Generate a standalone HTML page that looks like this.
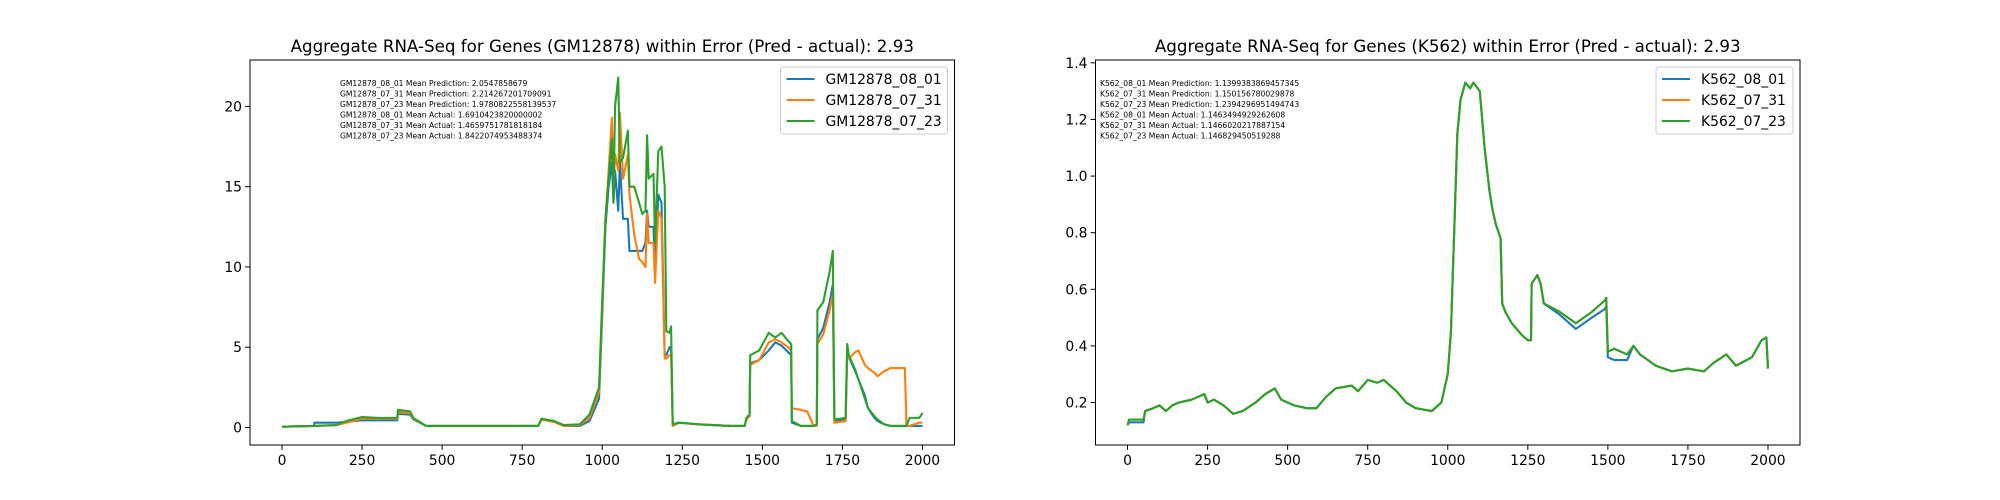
<!DOCTYPE html>
<html><head><meta charset="utf-8"><style>
html,body{margin:0;padding:0;background:#fff;}
svg{display:block;font-family:"DejaVu Sans","Liberation Sans",sans-serif;}
</style></head><body>
<svg id="fig" width="2000" height="500" viewBox="0 0 2000 500"></svg>
<script>
// ---- GM12878 data ----
const gmX = [0,100,101,170,200,250,300,360,362,400,410,450,800,810,850,880,930,960,990,1000,1010,1020,1030,1035,1040,1050,1055,1065,1080,1085,1100,1115,1125,1135,1140,1145,1160,1165,1175,1185,1195,1200,1210,1215,1220,1240,1300,1400,1445,1450,1460,1462,1490,1520,1540,1560,1580,1590,1592,1620,1640,1660,1670,1672,1690,1710,1720,1725,1760,1765,1770,1790,1800,1820,1830,1850,1860,1880,1900,1945,1950,1960,1990,2000];
const gmBlue = [0.05,0.1,0.3,0.3,0.35,0.45,0.45,0.45,0.85,0.8,0.5,0.1,0.1,0.5,0.35,0.1,0.1,0.4,1.8,7,12.5,15,16.5,14,16,13.5,16.5,13,13,11,11,11,11,11.5,13.5,12.5,12.5,9.5,14.5,14,4.5,4.5,5,5,0.2,0.3,0.2,0.1,0.1,0.5,0.7,4,4.2,4.8,5.3,5.1,4.7,4.5,0.3,0.1,0.1,0.1,0.2,5.5,6.2,7.8,8.9,0.4,0.5,5,4.4,3.5,3,2,1.2,0.6,0.4,0.2,0.1,0.1,0.1,0.1,0.1,0.1];
const gmOrange = [0.05,0.1,0.1,0.15,0.3,0.55,0.55,0.55,0.95,0.9,0.55,0.1,0.1,0.5,0.35,0.1,0.15,0.6,2.2,7.5,13,16,19.3,15,17,16,19.6,15.5,17,14.5,12,10.5,10.3,10,13.3,11.5,11.5,9,13.5,13,4.3,4.3,4.5,4.5,0.1,0.3,0.2,0.1,0.1,0.5,0.7,3.9,4.2,5.3,5.5,5.3,5,4.8,1.2,1.1,1,0.1,0.1,5.2,5.8,7.3,8.3,0.3,0.4,4.5,4.3,4.7,4.8,3.9,3.7,3.4,3.2,3.5,3.7,3.7,0.1,0.1,0.3,0.3];
const gmGreen = [0.05,0.1,0.1,0.15,0.4,0.65,0.6,0.6,1.1,1.0,0.6,0.1,0.1,0.55,0.4,0.15,0.2,0.8,2.5,8,13,15.5,18,14,20,21.8,16.5,16.8,18.5,15,15,14,13.3,13.5,18.2,15.5,15.8,11.5,17.2,17.5,15,6,5.9,6.3,0.2,0.3,0.2,0.1,0.1,0.6,0.8,4.5,4.8,5.9,5.6,5.9,5.4,5.2,0.4,0.1,0.1,0.1,0.2,7.3,7.8,9.7,11,0.5,0.6,5.2,4.5,3.6,3,1.8,1.2,0.7,0.5,0.2,0.1,0.1,0.1,0.6,0.6,0.9];
const gmYTicks = [0,5,10,15,20];
const xTicks = [0,250,500,750,1000,1250,1500,1750,2000];
const gmNames = ["GM12878_08_01","GM12878_07_31","GM12878_07_23"];
const gmNotes = ["GM12878_08_01 Mean Prediction: 2.0547858679","GM12878_07_31 Mean Prediction: 2.214267201709091","GM12878_07_23 Mean Prediction: 1.9780822558139537","GM12878_08_01 Mean Actual: 1.6910423820000002","GM12878_07_31 Mean Actual: 1.4659751781818184","GM12878_07_23 Mean Actual: 1.8422074953488374"];
// ---- K562 data ----
const kX = [0,5,50,55,80,100,120,140,160,200,240,250,270,300,330,360,400,430,460,480,520,560,590,620,650,700,720,750,780,800,840,870,900,950,980,1000,1010,1020,1030,1040,1055,1070,1080,1100,1115,1130,1140,1150,1165,1170,1180,1200,1230,1250,1260,1262,1280,1290,1300,1350,1400,1450,1490,1495,1500,1520,1560,1580,1600,1650,1700,1750,1800,1830,1870,1900,1950,1980,1995,2000];
const kGreen = [0.12,0.14,0.14,0.17,0.18,0.19,0.17,0.19,0.2,0.21,0.23,0.2,0.21,0.19,0.16,0.17,0.2,0.23,0.25,0.21,0.19,0.18,0.18,0.22,0.25,0.26,0.24,0.28,0.27,0.28,0.24,0.2,0.18,0.17,0.2,0.3,0.45,0.8,1.15,1.27,1.33,1.31,1.33,1.3,1.1,0.95,0.88,0.83,0.78,0.55,0.52,0.48,0.44,0.42,0.42,0.62,0.65,0.62,0.55,0.52,0.48,0.52,0.56,0.57,0.38,0.39,0.37,0.40,0.37,0.33,0.31,0.32,0.31,0.34,0.37,0.33,0.36,0.42,0.43,0.32];
const kOrange = kGreen.slice();
const kBlue = [0.12,0.13,0.13,0.17,0.18,0.19,0.17,0.19,0.2,0.21,0.23,0.2,0.21,0.19,0.16,0.17,0.2,0.23,0.25,0.21,0.19,0.18,0.18,0.22,0.25,0.26,0.24,0.28,0.27,0.28,0.24,0.2,0.18,0.17,0.2,0.3,0.45,0.8,1.15,1.27,1.33,1.31,1.33,1.3,1.1,0.95,0.88,0.83,0.78,0.55,0.52,0.48,0.44,0.42,0.42,0.62,0.65,0.62,0.55,0.51,0.46,0.5,0.53,0.54,0.36,0.35,0.35,0.40,0.37,0.33,0.31,0.32,0.31,0.34,0.37,0.33,0.36,0.42,0.43,0.32];
const kYTicks = [0.2,0.4,0.6,0.8,1.0,1.2,1.4];
const kNames = ["K562_08_01","K562_07_31","K562_07_23"];
const kNotes = ["K562_08_01 Mean Prediction: 1.1399383869457345","K562_07_31 Mean Prediction: 1.150156780029878","K562_07_23 Mean Prediction: 1.2394296951494743","K562_08_01 Mean Actual: 1.1463494929262608","K562_07_31 Mean Actual: 1.1466020217887154","K562_07_23 Mean Actual: 1.146829450519288"];

const colors = ["#1f77b4","#ff7f0e","#2ca02c"];
const NS = "http://www.w3.org/2000/svg";
const svg = document.getElementById('fig');
function mk(tag, attrs, parent){ const e=document.createElementNS(NS,tag); for(const k in attrs) e.setAttribute(k,attrs[k]); (parent||svg).appendChild(e); return e; }

function drawPanel(cfg){
  const L=cfg.left, R=cfg.left+704.5, T=60, B=445;
  const xs = v => L + (v - (-100)) / 2200 * (R-L);
  const ys = v => B - (v - cfg.ymin) / (cfg.ymax - cfg.ymin) * (B-T);
  const g = mk('g',{});
  
  
  const title = mk('text',{x:(L+R)/2,y:52,'text-anchor':'middle','font-size':'16.7'},g);
  title.textContent = cfg.title;
  
  
  // lines
  cfg.series.forEach((ys_,i)=>{
    const d = cfg.x.map((xv,j)=>(j?'L':'M')+xs(xv).toFixed(2)+','+ys(ys_[j]).toFixed(2)).join(' ');
    const p = mk('path',{d:d,fill:'none',stroke:colors[i],'stroke-width':'2.1','stroke-linejoin':'round'},g);
    
    
  });
  // frame
  const fr = mk('rect',{x:L,y:T,width:R-L,height:B-T,fill:'none',stroke:'#000','stroke-width':'1'},g);
  
  
  xTicks.forEach(t=>{
    const x=xs(t);
    mk('line',{x1:x,x2:x,y1:B,y2:B+4.9,stroke:'#000','stroke-width':'1'},g);
    const tx=mk('text',{x:x,y:B+20,'text-anchor':'middle','font-size':'13.9'},g);
    tx.textContent=t;
    
    
  });
  cfg.yticks.forEach(t=>{
    const y=ys(t);
    mk('line',{x1:L-4.9,x2:L,y1:y,y2:y,stroke:'#000','stroke-width':'1'},g);
    const tx=mk('text',{x:L-8,y:y+5,'text-anchor':'end','font-size':'13.9'},g);
    tx.textContent=cfg.fmt(t);
    
    
  });
  // annotations
  cfg.notes.forEach((s,i)=>{
    const tx=mk('text',{x:cfg.noteX,y:86+i*10.5,'font-size':'7.6'},g);
    tx.textContent=s;
    
    
  });
  // legend
  const lw=cfg.legW, lx=R-7-lw, ly=67;
  const lg = mk('g',{},g);
  
  
  mk('rect',{x:lx,y:ly,width:lw,height:67,rx:3,fill:'#fff','fill-opacity':'0.8',stroke:'#ccc','stroke-width':'1'},lg);
  cfg.names.forEach((n,i)=>{
    const y=ly+12+i*21;
    mk('line',{x1:lx+6,x2:lx+34,y1:y,y2:y,stroke:colors[i],'stroke-width':'2.1'},lg);
    const tx=mk('text',{x:lx+45,y:y+5,'font-size':'13.9'},lg);
    tx.textContent=n;
    
    
  });
}
drawPanel({id:'gm12878',left:250,ymin:-1.09,ymax:22.89,x:gmX,series:[gmBlue,gmOrange,gmGreen],names:gmNames,notes:gmNotes,yticks:gmYTicks,fmt:t=>String(t),noteX:340,legW:167,
  title:"Aggregate RNA-Seq for Genes (GM12878) within Error (Pred - actual): 2.93"});
drawPanel({id:'k562',left:1095.5,ymin:0.05,ymax:1.41,x:kX,series:[kBlue,kOrange,kGreen],names:kNames,notes:kNotes,yticks:kYTicks,fmt:t=>t.toFixed(1),noteX:1100,legW:137,
  title:"Aggregate RNA-Seq for Genes (K562) within Error (Pred - actual): 2.93"});
</script>
</body></html>
